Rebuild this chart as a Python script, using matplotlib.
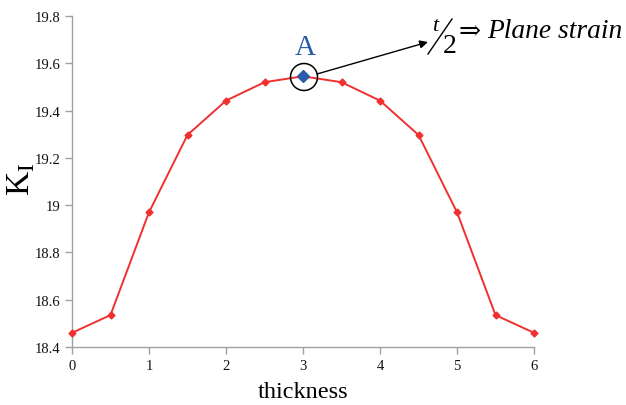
import matplotlib
matplotlib.use("Agg")
import matplotlib.pyplot as plt
from matplotlib.patches import Ellipse
from matplotlib.lines import Line2D

thickness = [0, 0.5, 1, 1.5, 2, 2.5, 3, 3.5, 4, 4.5, 5, 5.5, 6]
KI = [18.46, 18.535, 18.97, 19.297, 19.442, 19.52, 19.545, 19.52, 19.442, 19.297, 18.97, 18.535, 18.46]
xticks = [0, 1, 2, 3, 4, 5, 6]
yticks = [18.4, 18.6, 18.8, 19.0, 19.2, 19.4, 19.6, 19.8]
yticklabels = ["18.4", "18.6", "18.8", "19", "19.2", "19.4", "19.6", "19.8"]

plt.rcParams['font.family'] = ['Liberation Serif', 'DejaVu Serif']
W, H = 626, 406
fig = plt.figure(figsize=(W/100, H/100), dpi=100)
ax = fig.add_axes([72/W, 1-348/H, (534-72)/W, (348-17)/H])

ax.plot(thickness, KI, color='#f03030', lw=1.4, marker='D', ms=3.5, mfc='#f03030', mec='#f03030', clip_on=False, zorder=3)
ax.plot([thickness[6]], [KI[6]], marker='D', ms=6, color='#2a5caa', ls='none', zorder=4, clip_on=False)

ax.set_xlim(0, 6)
ax.set_ylim(18.4, 19.8)
ax.set_xticks(xticks)
ax.set_xticklabels([str(t) for t in xticks])
ax.set_yticks(yticks)
ax.set_yticklabels(yticklabels)
for s in ['top', 'right']:
    ax.spines[s].set_visible(False)
for s in ['left', 'bottom']:
    ax.spines[s].set_color('#a0a0a0')
    ax.spines[s].set_linewidth(1.0)
ax.tick_params(axis='both', colors='#a0a0a0', labelcolor='#111111', labelsize=10.5, length=5, direction='out', width=1.0)
ax.tick_params(axis='x', pad=4)

ax.set_xlabel('thickness', fontsize=17.5, labelpad=6)
ax.set_ylabel(r'K$_{\mathregular{I}}$', fontsize=24, rotation=90, va='center', ha='center')
ax.yaxis.set_label_coords((21-72)/462, (348-179)/331)

def fx(px):
    return px / W
def fy(py):
    return 1 - py / H

circ = Ellipse((fx(304), fy(78)), 27/W, 27/H, transform=fig.transFigure, fill=False, ec='black', lw=1.1, zorder=5)
fig.add_artist(circ)

fig.text(fx(305), fy(55), 'A', color='#2a5caa', fontsize=21, ha='center', va='baseline')

ax.annotate('', xy=(fx(428), fy(43)), xycoords='figure fraction',
            xytext=(fx(317), fy(75)), textcoords='figure fraction',
            arrowprops=dict(arrowstyle='-|>', color='black', lw=1.0, mutation_scale=12, shrinkA=0, shrinkB=0))

# t / 2 fraction
fig.text(fx(432), fy(31), 't', fontsize=16, style='italic', ha='left', va='baseline')
fig.add_artist(Line2D([fx(428), fx(452)], [fy(55), fy(20)], transform=fig.transFigure, color='black', lw=1.0))
fig.text(fx(443), fy(53), '2', fontsize=20, ha='left', va='baseline')
fig.text(fx(470), fy(31), '\u21d2', fontsize=19, ha='center', va='center', family=['DejaVu Serif'])
fig.text(fx(487), fy(38), 'Plane strain', fontsize=19.8, style='italic', ha='left', va='baseline')

fig.savefig('out.png', dpi=100)
